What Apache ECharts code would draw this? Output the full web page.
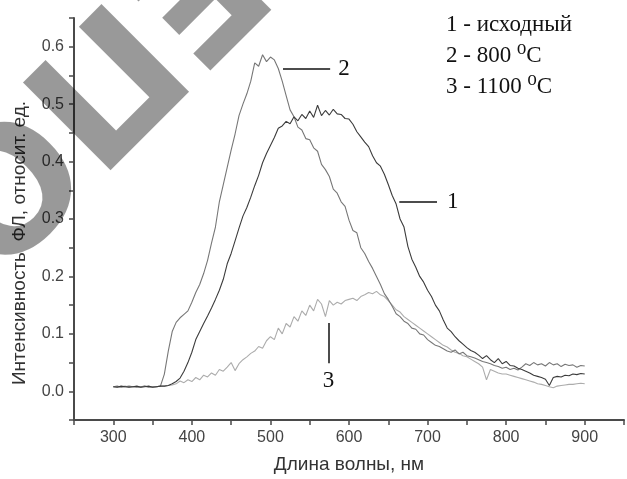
<!DOCTYPE html>
<html>
<head>
<meta charset="utf-8">
<script src="https://cdn.jsdelivr.net/npm/echarts@6/dist/echarts.min.js"></script>
<style>html,body{margin:0;padding:0;background:#fff}#c{width:627px;height:479px}</style>
</head>
<body>
<div id="c"></div>
<script>
const wavelengths = [300,305,310,315,320,325,330,335,340,345,350,355,360,365,370,375,380,385,390,395,
400,405,410,415,420,425,430,435,440,445,450,455,460,465,470,475,480,485,490,495,
500,505,510,515,520,525,530,535,540,545,550,555,560,565,570,575,580,585,590,595,
600,605,610,615,620,625,630,635,640,645,650,655,660,665,670,675,680,685,690,695,
700,705,710,715,720,725,730,735,740,745,750,755,760,765,770,775,780,785,790,795,
800,805,810,815,820,825,830,835,840,845,850,855,860,865,870,875,880,885,890,895,900];

const series1 = [.008,.007,.009,.008,.007,.008,.009,.007,.008,.009,.007,.008,.009,.009,.010,.013,.017,.023,.035,.050,
.068,.090,.104,.118,.131,.145,.160,.176,.195,.222,.240,.262,.284,.305,.320,.338,.358,.376,.398,.414,
.428,.442,.458,.462,.470,.466,.478,.471,.482,.475,.488,.477,.498,.480,.489,.481,.491,.483,.482,.475,
.474,.465,.452,.443,.434,.426,.410,.398,.392,.378,.360,.341,.326,.300,.286,.252,.230,.216,.200,.190,
.176,.165,.150,.140,.124,.110,.104,.095,.088,.082,.076,.071,.068,.063,.057,.062,.055,.050,.057,.048,
.052,.045,.044,.040,.038,.035,.032,.028,.026,.024,.021,.010,.024,.026,.025,.028,.027,.030,.029,.031,.030];

const series2 = [.008,.009,.007,.008,.009,.008,.007,.008,.009,.007,.008,.008,.009,.030,.070,.104,.120,.128,.134,.140,
.155,.172,.186,.205,.228,.258,.286,.330,.360,.390,.420,.448,.480,.500,.518,.540,.572,.566,.586,.574,
.582,.577,.562,.540,.515,.490,.478,.460,.455,.440,.438,.424,.418,.395,.386,.374,.352,.345,.330,.322,
.298,.280,.276,.250,.240,.226,.214,.200,.186,.170,.160,.148,.135,.130,.122,.118,.110,.108,.100,.098,
.090,.085,.080,.078,.074,.070,.068,.072,.065,.068,.062,.060,.058,.055,.052,.050,.048,.045,.043,.040,
.042,.038,.040,.037,.042,.048,.045,.050,.046,.048,.044,.050,.046,.048,.043,.047,.045,.046,.042,.045,.044];

const series3 = [.008,.007,.008,.009,.007,.008,.008,.007,.009,.008,.007,.008,.009,.009,.010,.011,.013,.018,.015,.020,
.017,.024,.020,.028,.025,.032,.028,.038,.035,.042,.050,.036,.048,.055,.060,.066,.070,.078,.075,.088,
.095,.090,.110,.100,.118,.112,.130,.122,.140,.132,.150,.140,.160,.152,.130,.158,.150,.155,.152,.158,
.160,.162,.158,.165,.168,.172,.170,.174,.168,.165,.158,.150,.142,.138,.130,.125,.120,.115,.110,.105,
.100,.095,.090,.085,.080,.077,.072,.068,.066,.062,.060,.056,.052,.048,.042,.020,.038,.035,.032,.030,
.030,.028,.026,.024,.022,.020,.018,.016,.013,.012,.010,.008,.006,.009,.010,.011,.012,.012,.013,.014,.013];

const legendLines = ['1 - исходный', '2 - 800 \u2070C', '3 - 1100 \u2070C'];
const curveLabels = ['1', '2', '3'];
const xTitle = 'Длина волны, нм';
const yTitle = 'Интенсивность  ФЛ, относит. ед.';
const watermark = 'РЕПОЗИТОРИЙ';

// annotation leader lines (data coordinates)
const lead1 = [[664, 0.330], [712, 0.330]];
const lead2 = [[516, 0.562], [576, 0.562]];
const lead3 = [[574, 0.119], [574, 0.049]];

function pairs(ys) { return wavelengths.map((x, i) => [x, ys[i]]); }

const chart = echarts.init(document.getElementById('c'), null, {renderer: 'canvas'});
const axisCol = '#4a4a4a';
const serif = '"Liberation Serif", "DejaVu Serif", serif';
const sans = '"Liberation Sans", Arial, sans-serif';

function numLabel(text, dist) {
  return {show: true, position: 'end', formatter: text, color: '#111',
          fontFamily: serif, fontSize: 23, distance: dist};
}

chart.setOption({
  animation: false,
  backgroundColor: '#fff',
  grid: {left: 74, right: -7, top: 18, bottom: 59, containLabel: false},
  xAxis: {
    type: 'value', min: 250, max: 950, interval: 50,
    name: xTitle, nameLocation: 'middle', nameGap: 35,
    nameTextStyle: {color: '#333', fontSize: 19, fontFamily: sans},
    axisLine: {show: true, onZero: false, lineStyle: {color: axisCol, width: 2}},
    axisTick: {show: true, inside: false, length: 5, lineStyle: {color: axisCol, width: 1.5}},
    axisLabel: {color: '#444', fontSize: 16, margin: 10, fontFamily: sans,
      formatter: v => (Math.round(v) % 100 === 0 && v >= 300 && v <= 900) ? String(v) : ''},
    splitLine: {show: false}
  },
  yAxis: {
    type: 'value', min: -0.05, max: 0.65, interval: 0.05,
    axisLine: {show: true, onZero: false, lineStyle: {color: axisCol, width: 2}},
    axisTick: {show: true, inside: false, length: 5, lineStyle: {color: axisCol, width: 1.5}},
    axisLabel: {color: '#444', fontSize: 16, margin: 10, fontFamily: sans,
      formatter: v => {
        const k = Math.round(v * 100);
        return (k % 10 === 0 && k >= 0 && k <= 60) ? (k / 100).toFixed(1) : '';
      }},
    splitLine: {show: false}
  },
  series: [
    {type: 'line', name: '3', data: pairs(series3), showSymbol: false, symbol: 'none',
     lineStyle: {color: '#acacac', width: 1.1}, z: 2},
    {type: 'line', name: '2', data: pairs(series2), showSymbol: false, symbol: 'none',
     lineStyle: {color: '#777', width: 1.1}, z: 3,
     markLine: {
       silent: true, symbol: ['none', 'none'], animation: false,
       lineStyle: {color: '#111', width: 1.5, type: 'solid'},
       data: [[{coord: lead2[0], label: numLabel(curveLabels[1], 8)}, {coord: lead2[1]}]]
     }},
    {type: 'line', name: '1', data: pairs(series1), showSymbol: false, symbol: 'none',
     lineStyle: {color: '#3c3c3c', width: 1.1}, z: 4,
     markLine: {
       silent: true, symbol: ['none', 'none'], animation: false,
       lineStyle: {color: '#111', width: 1.5, type: 'solid'},
       data: [
         [{coord: lead1[0], label: numLabel(curveLabels[0], 10)}, {coord: lead1[1]}],
         [{coord: lead3[0], label: numLabel(curveLabels[2], 6)}, {coord: lead3[1]}]
       ]
     }}
  ],
  graphic: [
    {type: 'text', left: 446, top: 9, silent: true,
     style: {text: legendLines.join('\n'), fill: '#111', font: '23px ' + serif, lineHeight: 31}},
    {type: 'text', x: 20, y: 243, rotation: Math.PI / 2, silent: true,
     style: {text: yTitle, fill: '#333', font: '19px ' + sans,
             textAlign: 'center', textVerticalAlign: 'middle'}},
    {type: 'text', x: 314, y: -146, rotation: 225 * Math.PI / 180, silent: true, z: 100,
     style: {text: watermark, fill: 'rgba(0,0,0,0.4)', font: 'bold 170px "DejaVu Sans", sans-serif',
             textAlign: 'left', textVerticalAlign: 'middle'}}
  ]
});
</script>
</body>
</html>
